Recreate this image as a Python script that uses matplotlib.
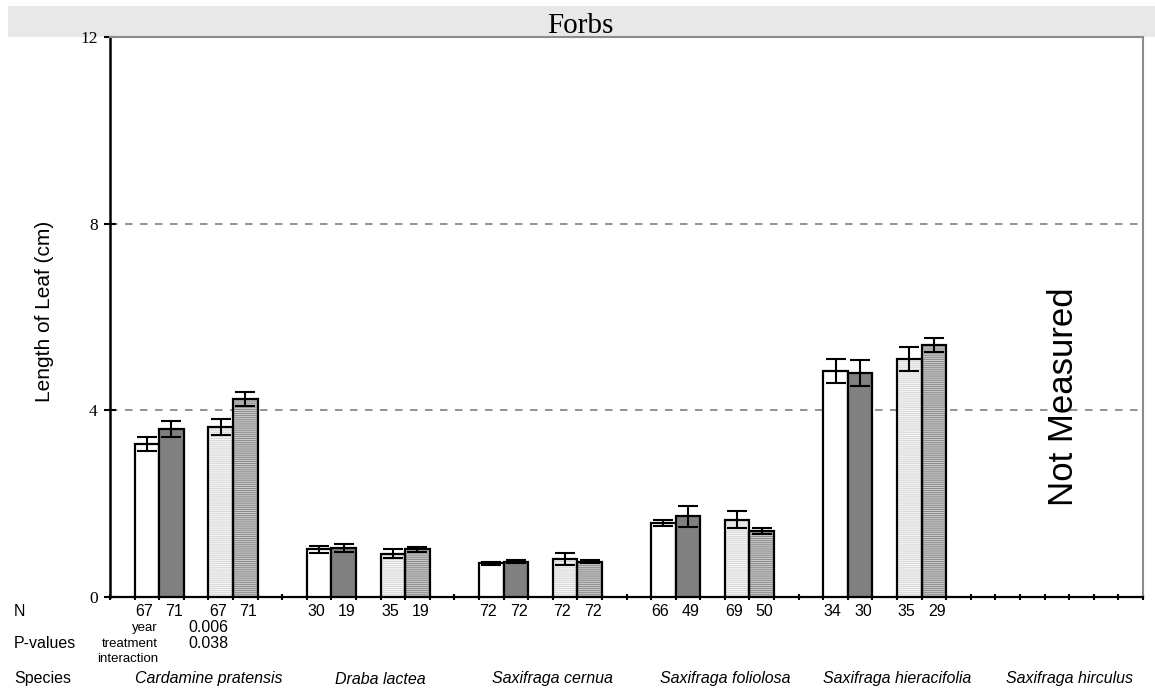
import numpy as np
import matplotlib
matplotlib.use("Agg")
import matplotlib.pyplot as plt
import matplotlib.transforms as mtransforms
from matplotlib.patches import Rectangle

# ---- data -------------------------------------------------------------
species = ["Cardamine pratensis", "Draba lactea", "Saxifraga cernua",
           "Saxifraga foliolosa", "Saxifraga hieracifolia", "Saxifraga hirculus"]

# mean leaf length (cm) and standard error; hirculus was not measured
mean_ctl_a = [3.28, 1.02, 0.72, 1.58, 4.84, np.nan]
se_ctl_a = [0.15, 0.07, 0.04, 0.06, 0.26, np.nan]
mean_otc_a = [3.60, 1.05, 0.76, 1.73, 4.80, np.nan]
se_otc_a = [0.17, 0.08, 0.04, 0.23, 0.28, np.nan]
mean_ctl_b = [3.65, 0.93, 0.81, 1.66, 5.10, np.nan]
se_ctl_b = [0.17, 0.09, 0.13, 0.19, 0.26, np.nan]
mean_otc_b = [4.25, 1.02, 0.76, 1.41, 5.40, np.nan]
se_otc_b = [0.15, 0.05, 0.04, 0.07, 0.15, np.nan]

# sample sizes
n_ctl_a = [67, 30, 72, 66, 34, None]
n_otc_a = [71, 19, 72, 49, 30, None]
n_ctl_b = [67, 35, 72, 69, 35, None]
n_otc_b = [71, 19, 72, 50, 29, None]

# P-values (only Cardamine pratensis has significant terms)
p_year = ["0.006", "", "", "", "", ""]
p_treatment = ["0.038", "", "", "", "", ""]
p_interaction = ["", "", "", "", "", ""]

y_ticks = [0, 4, 8, 12]

# ---- layout ------------------------------------------------------------
W, H = 1155, 691
SANS = ["Liberation Sans", "DejaVu Sans"]
SERIF = ["Liberation Serif", "DejaVu Serif"]
plt.rcParams["font.family"] = SANS
plt.rcParams["hatch.linewidth"] = 0.7

fig = plt.figure(figsize=(W / 100, H / 100), dpi=100)
fig.patch.set_facecolor("white")

# grey header band with the title
fig.add_artist(Rectangle((8 / W, 1 - 37 / H), 1 - 8 / W, 31 / H,
                         transform=fig.transFigure, facecolor="#e8e8e8",
                         edgecolor="none", zorder=0))
fig.text(580 / W, 1 - 33 / H, "Forbs", ha="center", va="baseline",
         fontsize=21, family=SERIF)

ax = fig.add_axes([110 / W, 1 - 597 / H, (1143 - 110) / W, (597 - 37) / H])

SLOTS = 7                       # slots per species group
n_groups = len(species)
offsets = [1, 2, 4, 5]          # slot of each bar inside a group

series = [
    (mean_ctl_a, se_ctl_a, n_ctl_a, dict(face="white", hatch=None)),
    (mean_otc_a, se_otc_a, n_otc_a, dict(face="#808080", hatch=None)),
    (mean_ctl_b, se_ctl_b, n_ctl_b, dict(face="#f6f6f6", hatch="--------", hcol="#d6d6d6")),
    (mean_otc_b, se_otc_b, n_otc_b, dict(face="#cccccc", hatch="--------", hcol="#888888")),
]

trans_lbl = mtransforms.blended_transform_factory(ax.transData, fig.transFigure)
fy = lambda py: 1 - py / H

for k, (means, ses, ns, style) in enumerate(series):
    means = np.asarray(means, dtype=float)
    ses = np.asarray(ses, dtype=float)
    lefts = np.arange(n_groups) * SLOTS + offsets[k]
    ok = ~np.isnan(means)
    if style["hatch"]:
        ax.bar(lefts[ok], means[ok], width=1, align="edge",
               facecolor=style["face"], edgecolor=style["hcol"],
               hatch=style["hatch"], linewidth=0, zorder=3)
        ax.bar(lefts[ok], means[ok], width=1, align="edge",
               facecolor="none", edgecolor="black", linewidth=1.6, zorder=3.5)
    else:
        ax.bar(lefts[ok], means[ok], width=1, align="edge",
               facecolor=style["face"], edgecolor="black", linewidth=1.6,
               zorder=3)
    ax.errorbar(lefts[ok] + 0.5, means[ok], yerr=ses[ok], fmt="none",
                ecolor="black", elinewidth=1.5, capsize=7, capthick=1.5,
                zorder=4)
    # sample sizes under each bar, pairs spread slightly apart
    shift = -0.12 if k % 2 == 0 else 0.12
    for g in range(n_groups):
        if ns[g] is not None:
            ax.text(lefts[g] + 0.5 + shift, fy(611), str(ns[g]),
                    transform=trans_lbl, ha="center", va="center",
                    fontsize=11.5)

# dashed reference lines
for yv in y_ticks[1:3]:
    ax.axhline(yv, color="#808080", linewidth=1.2, dashes=(4.5, 4.5), zorder=1)

ax.set_xlim(0, n_groups * SLOTS)
ax.set_ylim(0, 12)
ax.set_xticks(np.arange(0, n_groups * SLOTS + 1))
ax.set_xticklabels([])
ax.set_yticks(y_ticks)
ax.set_yticklabels([str(v) for v in y_ticks], family=SERIF, fontsize=12.5)
ax.tick_params(axis="x", direction="inout", length=5, width=1.5, color="black")
ax.tick_params(axis="y", direction="inout", length=8, width=1.5, color="black", pad=5)

ax.spines["left"].set_linewidth(1.8)
ax.spines["bottom"].set_linewidth(1.6)
for s in ("top", "right"):
    ax.spines[s].set_color("#8c8c8c")
    ax.spines[s].set_linewidth(1.5)

fig.text(44 / W, fy(311), "Length of Leaf (cm)", rotation=90,
         ha="center", va="center", fontsize=15)

# species not measured
ax.text(5 * SLOTS + 3.75, 4.3, "Not Measured", rotation=90,
        ha="center", va="center", fontsize=25)

# rows under the axis
fig.text(14 / W, fy(611), "N", ha="left", va="center", fontsize=11.5)
fig.text(14 / W, fy(644), "P-values", ha="left", va="center", fontsize=11.5)
fig.text(14 / W, fy(679), "Species", ha="left", va="center", fontsize=11.5)

for label, py in (("year", 628), ("treatment", 644), ("interaction", 659)):
    ax.text(1.95, fy(py), label, transform=trans_lbl, ha="right",
            va="center", fontsize=9.5)

for g in range(n_groups):
    cx = g * SLOTS + 4.0
    for vals, py in ((p_year, 628), (p_treatment, 644), (p_interaction, 659)):
        if vals[g]:
            ax.text(cx, fy(py), vals[g], transform=trans_lbl, ha="center",
                    va="center", fontsize=11.5)
    ax.text(cx, fy(679), species[g], transform=trans_lbl, ha="center",
            va="center", fontsize=11.5, style="italic")

fig.savefig("out.png", dpi=100)
